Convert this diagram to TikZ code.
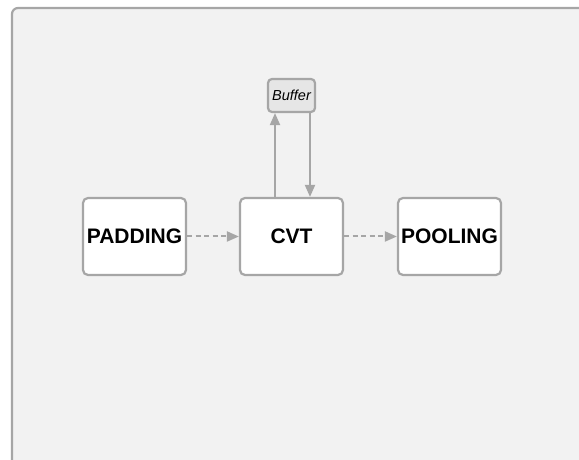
\documentclass[tikz,border=0pt]{standalone}
\usepackage{fontspec}
\setmainfont{Liberation Sans}
\usetikzlibrary{arrows.meta}
\definecolor{panelfill}{HTML}{F2F2F2}
\definecolor{edgegray}{HTML}{A6A6A6}
\definecolor{bufferfill}{HTML}{E6E6E6}
\tikzset{
  x=1pt, y=1pt,
  stagebox/.style={draw=edgegray, line width=2.2pt, fill=white, rounded corners=5pt,
    minimum width=103pt, minimum height=77pt, inner sep=0pt,
    font=\fontsize{21}{25}\selectfont\bfseries},
  bufbox/.style={draw=edgegray, line width=2.2pt, fill=bufferfill, rounded corners=4pt,
    minimum width=47pt, minimum height=33pt, inner sep=0pt,
    font=\fontsize{14.5}{17}\selectfont\itshape},
  flow/.style={draw=edgegray, line width=2pt, -{Triangle[length=12pt,width=10pt]}},
  dashflow/.style={flow, dash pattern=on 5pt off 3.5pt},
}
\begin{document}
\begin{tikzpicture}
\useasboundingbox (0,0) rectangle (579,460);
% outer panel, running past the right and bottom edges
\begin{scope}
\clip (0,0) rectangle (579,460);
\draw[draw=edgegray, line width=2.2pt, fill=panelfill, rounded corners=6pt]
  (12,452) rectangle (600,-20);
\end{scope}
% stages
\node[stagebox] (pad) at (134.5,223.5) {PADDING};
\node[stagebox] (cvt) at (291.5,223.5) {CVT};
\node[stagebox] (pool) at (449.5,223.5) {POOLING};
\node[bufbox] (buf) at (291.5,364.5) {Buffer};
% connectors
\draw[dashflow] (pad.east) -- (cvt.west);
\draw[dashflow] (cvt.east) -- (pool.west);
\coordinate (upA) at ([xshift=-16.5pt]cvt.north);
\coordinate (upB) at ([xshift=-16.5pt]buf.south);
\coordinate (dnA) at ([xshift=18.5pt]buf.south);
\coordinate (dnB) at ([xshift=18.5pt]cvt.north);
\draw[flow] (upA) -- (upB);
\draw[flow] (dnA) -- (dnB);
\end{tikzpicture}
\end{document}
